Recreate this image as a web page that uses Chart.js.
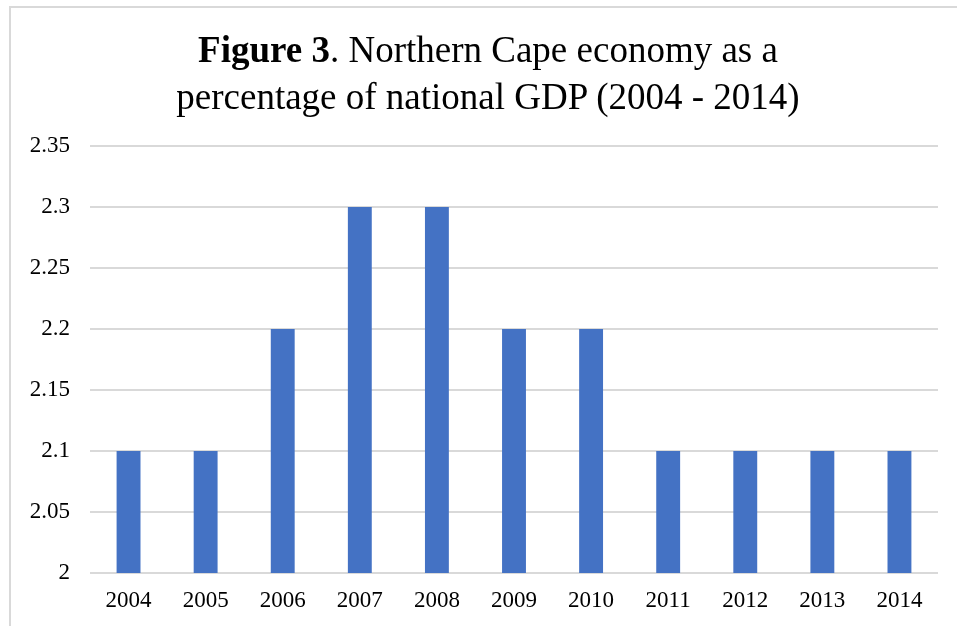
<!DOCTYPE html>
<html lang="en">
<head>
<meta charset="UTF-8" />
<title>Northern Cape economy</title>
<style>
  body {
    margin: 0;
    background: #fff;
    font-family: 'Liberation Serif', 'Times New Roman', serif;
  }
  .frame {
    position: absolute;
    left: 9px;
    top: 6px;
    width: 960px;
    height: 640px;
    border-left: 2px solid #d9d9d9;
    border-top: 2px solid #d9d9d9;
  }
  .title {
    position: absolute;
    left: 0;
    top: 26px;
    width: 976px;
    text-align: center;
    font-size: 37px;
    line-height: 47px;
    color: #000;
  }
  canvas {
    position: absolute;
    left: 0;
    top: 0;
  }
</style>
</head>
<body>

<div class="frame"></div>
<canvas id="gdpChart" width="957" height="626"></canvas>
<div class="title"><b>Figure 3</b>. Northern Cape economy as a<br>percentage of national GDP (2004 - 2014)</div>

<script src="https://cdn.jsdelivr.net/npm/chart.js"></script>
<script>
const years = ['2004', '2005', '2006', '2007', '2008', '2009', '2010', '2011', '2012', '2013', '2014'];
const gdpShare = [2.1, 2.1, 2.2, 2.3, 2.3, 2.2, 2.2, 2.1, 2.1, 2.1, 2.1];
const yMin = 2;
const yMax = 2.35;
const yStep = 0.05;

const ctx = document.getElementById('gdpChart').getContext('2d');

new Chart(ctx, {
    type: 'bar',
    data: {
        labels: years,
        datasets: [{
            label: 'Share of national GDP (%)',
            data: gdpShare,
            backgroundColor: '#4472c4',
            borderWidth: 0,
            categoryPercentage: 1,
            barPercentage: 0.31
        }]
    },
    options: {
        responsive: false,
        animation: false,
        layout: {padding: {top: 146, right: 19, left: 0, bottom: 0}},
        plugins: {
            legend: {display: false},
            tooltip: {enabled: false}
        },
        scales: {
            x: {
                grid: {display: false, drawTicks: false},
                border: {display: false},
                ticks: {
                    color: '#000',
                    padding: 14,
                    font: {family: "'Liberation Serif', serif", size: 23}
                },
                afterFit: s => { s.height = 53; }
            },
            y: {
                min: yMin,
                max: yMax,
                grid: {color: '#d9d9d9', lineWidth: 2, drawTicks: false},
                border: {display: false},
                ticks: {
                    stepSize: yStep,
                    color: '#000',
                    padding: 20,
                    font: {family: "'Liberation Serif', serif", size: 23},
                    callback: v => String(parseFloat(v.toFixed(2)))
                },
                afterFit: s => { s.width = 90; }
            }
        }
    }
});
</script>

</body>
</html>
